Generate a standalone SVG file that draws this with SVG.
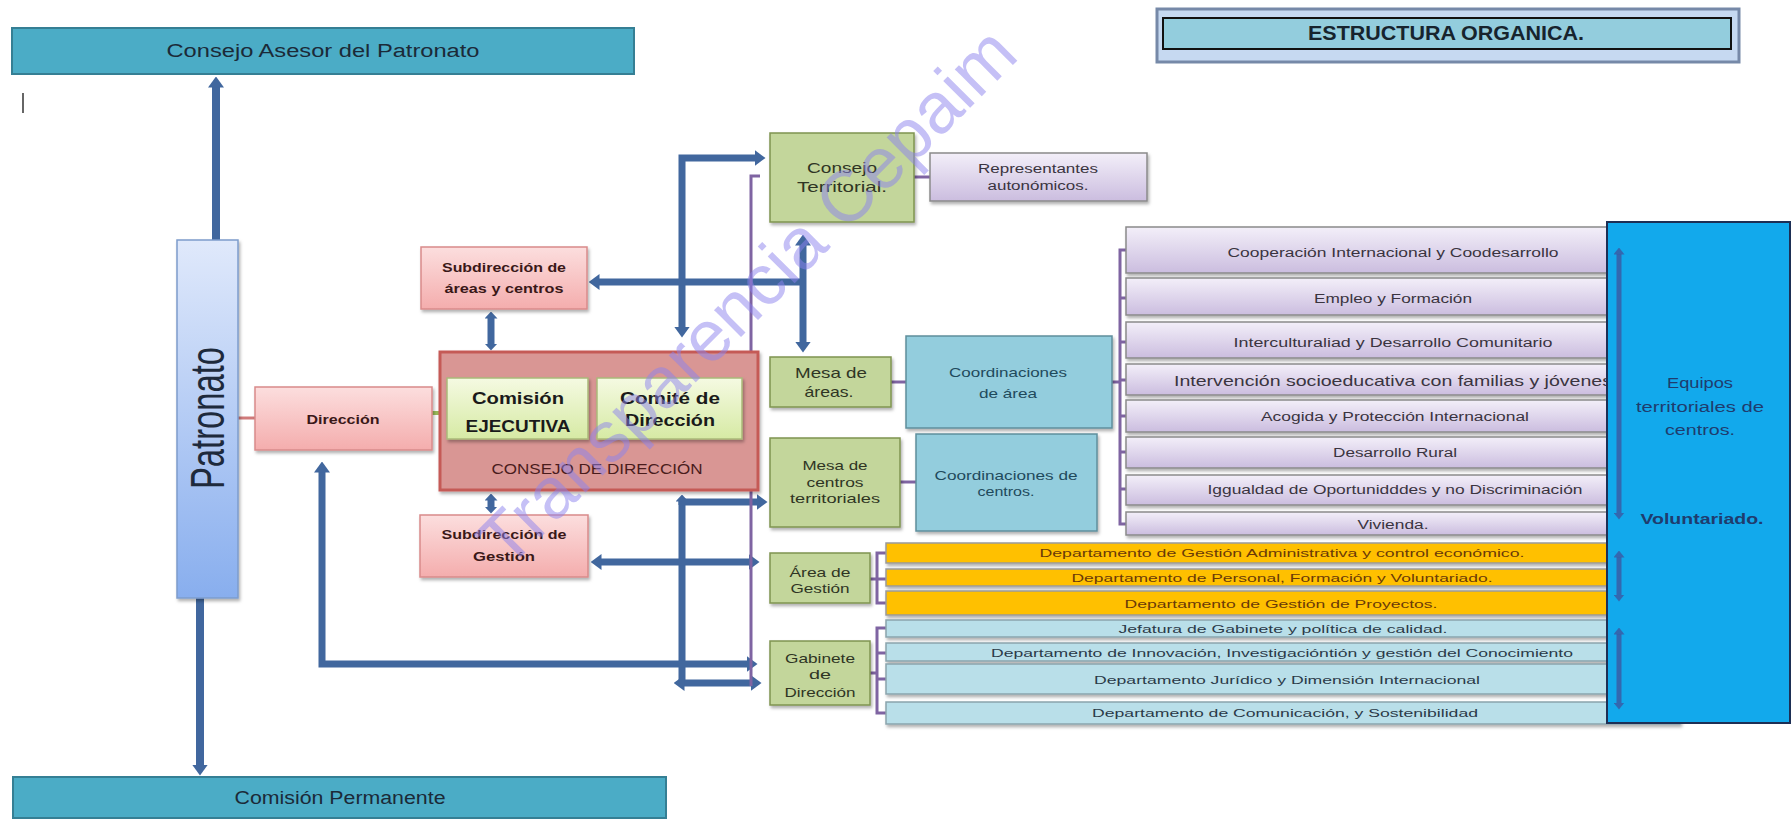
<svg xmlns="http://www.w3.org/2000/svg" width="1792" height="819" viewBox="0 0 1792 819">
<style>
text{font-family:"Liberation Sans",Arial,sans-serif;text-anchor:middle;}
.b{font-weight:bold;}
.conn{fill:none;stroke:#41679e;stroke-width:7;}
.main{fill:none;stroke:#41679e;stroke-width:8;}
.pl{fill:none;stroke:#7f64a2;stroke-width:3;}
.inner{fill:none;stroke:#3a5da6;stroke-width:5;stroke-opacity:0.85;}
.green{fill:#c3d69b;stroke:#7f9450;stroke-width:1.5;}
.gt{fill:#2f3524;}
.pink{fill:url(#gPink);stroke:#d98b8b;stroke-width:1.5;}
.pt{fill:#3a1818;}
.purp{fill:url(#gPurp);stroke:#8a8a8a;stroke-width:1.5;}
.prt{fill:#3a3440;font-size:12.5px;}
.orng{fill:#ffc000;stroke:#9a9a9a;stroke-width:1.5;}
.ot{fill:#6a3a08;font-size:11.5px;}
.lb{fill:#b9dfe9;stroke:#8aa4ac;stroke-width:1.5;}
.lt{fill:#2b3a48;font-size:11.5px;}
.cyan{fill:#93cddd;stroke:#5f8e9c;stroke-width:1.5;}
.ct{fill:#1f4a5c;font-size:13px;}
.teal{fill:#4bacc6;stroke:#357f94;stroke-width:2;}
</style>
<defs>
<linearGradient id="gPat" x1="0" y1="0" x2="0" y2="1"><stop offset="0" stop-color="#e0e9fb"/><stop offset="1" stop-color="#88aeee"/></linearGradient>
<linearGradient id="gPink" x1="0" y1="0" x2="0" y2="1"><stop offset="0" stop-color="#fcdede"/><stop offset="1" stop-color="#f4adad"/></linearGradient>
<linearGradient id="gLime" x1="0" y1="0" x2="0" y2="1"><stop offset="0" stop-color="#f5fae2"/><stop offset="1" stop-color="#d6eaa4"/></linearGradient>
<linearGradient id="gPurp" x1="0" y1="0" x2="0" y2="1"><stop offset="0" stop-color="#f3eff9"/><stop offset="1" stop-color="#cbbddf"/></linearGradient>
<filter id="sh" x="-10%" y="-10%" width="125%" height="140%"><feDropShadow dx="1.5" dy="2.5" stdDeviation="1.5" flood-color="#000" flood-opacity="0.3"/></filter>
<marker id="ah" viewBox="0 0 11 16" refX="0.5" refY="8" markerWidth="11" markerHeight="16" markerUnits="userSpaceOnUse" orient="auto-start-reverse"><path d="M0,0 L11,8 L0,16 z" fill="#41679e"/></marker>
<marker id="ahs" viewBox="0 0 7 13" refX="0.5" refY="6.5" markerWidth="7" markerHeight="13" markerUnits="userSpaceOnUse" orient="auto-start-reverse"><path d="M0,0 L7,6.5 L0,13 z" fill="#41679e"/></marker>
<marker id="ahi" viewBox="0 0 7 11" refX="0.5" refY="5.5" markerWidth="7" markerHeight="11" markerUnits="userSpaceOnUse" orient="auto-start-reverse"><path d="M0,0 L7,5.5 L0,11 z" fill="#3a5da6" fill-opacity="0.85"/></marker>
</defs>

<rect width="1792" height="819" fill="#ffffff"/>

<g id="titulo">
<rect x="1157" y="9" width="582" height="53" fill="#c6d9f1" stroke="#7689a8" stroke-width="3"/>
<rect x="1163" y="18" width="568" height="31" fill="#93cddd" stroke="#111" stroke-width="2"/>
<text x="1446" y="40" class="b" font-size="20" fill="#17242e" textLength="276" lengthAdjust="spacingAndGlyphs">ESTRUCTURA ORGANICA.</text>
</g>

<line x1="23" y1="93" x2="23" y2="113" stroke="#333" stroke-width="1.5"/>

<g id="consejo-asesor">
<rect class="teal" x="12" y="28" width="622" height="46"/>
<text x="323" y="57" font-size="18" fill="#1b2a38" textLength="313" lengthAdjust="spacingAndGlyphs">Consejo Asesor del Patronato</text>
</g>

<g id="comision-permanente">
<rect class="teal" x="13" y="777" width="653" height="41"/>
<text x="340" y="804" font-size="18" fill="#1b2a38" textLength="211" lengthAdjust="spacingAndGlyphs">Comisión Permanente</text>
</g>

<g id="connectors">
<line class="main" x1="216" y1="240" x2="216" y2="87" marker-end="url(#ah)"/>
<line class="main" x1="200" y1="598" x2="200" y2="765" marker-end="url(#ah)"/>
<line x1="238" y1="418" x2="255" y2="418" stroke="#d07a7a" stroke-width="3"/>
<line x1="432" y1="413" x2="440" y2="413" stroke="#9bbb59" stroke-width="4"/>
<line class="conn" x1="491" y1="318" x2="491" y2="344" marker-start="url(#ahs)" marker-end="url(#ahs)"/>
<line class="conn" x1="491" y1="500" x2="491" y2="507" marker-start="url(#ahs)" marker-end="url(#ahs)"/>
<path class="conn" d="M682,327 V158 H755" marker-start="url(#ah)" marker-end="url(#ah)"/>
<path class="conn" d="M803,282 H599" marker-end="url(#ah)"/>
<path class="conn" d="M803,245 V342" marker-start="url(#ah)" marker-end="url(#ah)"/>
<path class="conn" d="M682,501 V683"/>
<path class="conn" d="M682,505 V501" marker-end="url(#ahs)"/>
<path class="conn" d="M682,502 H757" marker-end="url(#ah)"/>
<path class="conn" d="M601,562 H749" marker-start="url(#ah)" marker-end="url(#ah)"/>
<path class="conn" d="M684,683 H751" marker-start="url(#ah)" marker-end="url(#ah)"/>
<path class="conn" d="M322,472 V664 H747" marker-start="url(#ah)" marker-end="url(#ah)"/>
<path class="pl" d="M760,176 H751 V686"/>
<line class="pl" x1="914" y1="177" x2="930" y2="177"/>
<line class="pl" x1="891" y1="382" x2="906" y2="382"/>
<line class="pl" x1="900" y1="482" x2="916" y2="482"/>
<path class="pl" d="M1112,382 H1120 M1127,250 H1120 V524 H1127 M1120,298 H1127 M1120,342 H1127 M1120,380 H1127 M1120,416 H1127 M1120,452 H1127 M1120,489 H1127"/>
<path class="pl" d="M870,579 H877 M886,553 H877 V603 H886 M877,579 H886"/>
<path class="pl" d="M870,673 H877 M886,628 H877 V713 H886 M877,653 H886 M877,679 H886"/>
</g>

<g id="patronato">
<rect x="177" y="240" width="61" height="358" fill="url(#gPat)" stroke="#7d9ccc" stroke-width="1.5" filter="url(#sh)"/>
<text transform="translate(207,418) rotate(-90) scale(1,1.28)" x="0" y="13.6" font-size="38" fill="#1e2a3c" textLength="142" lengthAdjust="spacingAndGlyphs">Patronato</text>
</g>

<g id="direccion">
<rect class="pink" x="255" y="387" width="177" height="63" filter="url(#sh)"/>
<text class="b pt" x="343" y="424" font-size="13" textLength="73" lengthAdjust="spacingAndGlyphs">Dirección</text>
</g>

<g id="subdireccion-areas">
<rect class="pink" x="421" y="247" width="166" height="62" filter="url(#sh)"/>
<text class="b pt" x="504" y="271.5" font-size="13" textLength="124" lengthAdjust="spacingAndGlyphs">Subdirección de</text>
<text class="b pt" x="504" y="292.5" font-size="13" textLength="119" lengthAdjust="spacingAndGlyphs">áreas y centros</text>
</g>

<g id="subdireccion-gestion">
<rect class="pink" x="420" y="515" width="168" height="62" filter="url(#sh)"/>
<text class="b pt" x="504" y="538.5" font-size="13" textLength="125" lengthAdjust="spacingAndGlyphs">Subdirección de</text>
<text class="b pt" x="504" y="560.5" font-size="13" textLength="62" lengthAdjust="spacingAndGlyphs">Gestión</text>
</g>

<g id="consejo-direccion">
<rect x="440" y="352" width="318" height="138" fill="#d99694" stroke="#c55a57" stroke-width="3" filter="url(#sh)"/>
<text x="597" y="473.5" font-size="15" fill="#4a1c1c" textLength="211" lengthAdjust="spacingAndGlyphs">CONSEJO DE DIRECCIÓN</text>
</g>

<g id="comision-ejecutiva">
<rect x="447" y="378" width="141" height="61" fill="url(#gLime)" stroke="#aab97a" stroke-width="1.5" filter="url(#sh)"/>
<text class="b" x="518" y="404" font-size="17" fill="#1a1a1a" textLength="92" lengthAdjust="spacingAndGlyphs">Comisión</text>
<text class="b" x="518" y="432" font-size="17" fill="#1a1a1a" textLength="105" lengthAdjust="spacingAndGlyphs">EJECUTIVA</text>
</g>

<g id="comite-direccion">
<rect x="597" y="378" width="145" height="61" fill="url(#gLime)" stroke="#aab97a" stroke-width="1.5" filter="url(#sh)"/>
<text class="b" x="670" y="404" font-size="17" fill="#1a1a1a" textLength="100" lengthAdjust="spacingAndGlyphs">Comité de</text>
<text class="b" x="670" y="426" font-size="17" fill="#1a1a1a" textLength="90" lengthAdjust="spacingAndGlyphs">Dirección</text>
</g>

<g id="consejo-territorial">
<rect class="green" x="770" y="133" width="144" height="89" filter="url(#sh)"/>
<text class="gt" x="842" y="173" font-size="14" textLength="70" lengthAdjust="spacingAndGlyphs">Consejo</text>
<text class="gt" x="842" y="192" font-size="14" textLength="90" lengthAdjust="spacingAndGlyphs">Territorial.</text>
</g>

<g id="representantes">
<rect class="purp" x="930" y="153" width="217" height="48" filter="url(#sh)"/>
<text class="prt" x="1038" y="173" font-size="12" textLength="120" lengthAdjust="spacingAndGlyphs">Representantes</text>
<text class="prt" x="1038" y="189.5" font-size="12" textLength="101" lengthAdjust="spacingAndGlyphs">autonómicos.</text>
</g>

<g id="mesa-areas">
<rect class="green" x="770" y="357" width="121" height="50" filter="url(#sh)"/>
<text class="gt" x="831" y="378" font-size="15" textLength="72" lengthAdjust="spacingAndGlyphs">Mesa de</text>
<text class="gt" x="829" y="397" font-size="15" textLength="49" lengthAdjust="spacingAndGlyphs">áreas.</text>
</g>

<g id="mesa-centros">
<rect class="green" x="770" y="438" width="130" height="89" filter="url(#sh)"/>
<text class="gt" x="835" y="469.5" font-size="13" textLength="65" lengthAdjust="spacingAndGlyphs">Mesa de</text>
<text class="gt" x="835" y="486.5" font-size="13" textLength="57" lengthAdjust="spacingAndGlyphs">centros</text>
<text class="gt" x="835" y="502.5" font-size="13" textLength="90" lengthAdjust="spacingAndGlyphs">territoriales</text>
</g>

<g id="coord-area">
<rect class="cyan" x="906" y="336" width="206" height="92" filter="url(#sh)"/>
<text class="ct" x="1008" y="376.5" textLength="118" lengthAdjust="spacingAndGlyphs">Coordinaciones</text>
<text class="ct" x="1008" y="397.5" textLength="58" lengthAdjust="spacingAndGlyphs">de área</text>
</g>

<g id="coord-centros">
<rect class="cyan" x="916" y="434" width="181" height="97" filter="url(#sh)"/>
<text class="ct" x="1006" y="479.5" textLength="143" lengthAdjust="spacingAndGlyphs">Coordinaciones de</text>
<text class="ct" x="1006" y="495.5" textLength="57" lengthAdjust="spacingAndGlyphs">centros.</text>
</g>

<g id="area-gestion">
<rect class="green" x="770" y="553" width="100" height="50" filter="url(#sh)"/>
<text class="gt" x="820" y="576.5" font-size="13" textLength="61" lengthAdjust="spacingAndGlyphs">Área de</text>
<text class="gt" x="820" y="592.5" font-size="13" textLength="59" lengthAdjust="spacingAndGlyphs">Gestión</text>
</g>

<g id="gabinete">
<rect class="green" x="770" y="641" width="100" height="64" filter="url(#sh)"/>
<text class="gt" x="820" y="662.5" font-size="13" textLength="70" lengthAdjust="spacingAndGlyphs">Gabinete</text>
<text class="gt" x="820" y="678.5" font-size="13" textLength="22" lengthAdjust="spacingAndGlyphs">de</text>
<text class="gt" x="820" y="696.5" font-size="13" textLength="71" lengthAdjust="spacingAndGlyphs">Dirección</text>
</g>

<g id="areas-lista">
<g id="area-cooperacion"><rect class="purp" x="1126" y="227" width="514" height="46" filter="url(#sh)"/><text class="prt" x="1393" y="256.5" textLength="331" lengthAdjust="spacingAndGlyphs">Cooperación Internacional y Coodesarrollo</text></g>
<g id="area-empleo"><rect class="purp" x="1126" y="278" width="514" height="37" filter="url(#sh)"/><text class="prt" x="1393" y="302.5" textLength="158" lengthAdjust="spacingAndGlyphs">Empleo y Formación</text></g>
<g id="area-intercultural"><rect class="purp" x="1126" y="322" width="514" height="36" filter="url(#sh)"/><text class="prt" x="1393" y="346.5" textLength="319" lengthAdjust="spacingAndGlyphs">Interculturaliad y Desarrollo Comunitario</text></g>
<g id="area-intervencion"><rect class="purp" x="1126" y="364" width="514" height="31" filter="url(#sh)"/><text class="prt" x="1393" y="385.5" style="font-size:15px" textLength="438" lengthAdjust="spacingAndGlyphs">Intervención socioeducativa con familias y jóvenes</text></g>
<g id="area-acogida"><rect class="purp" x="1126" y="400" width="514" height="32" filter="url(#sh)"/><text class="prt" x="1395" y="420.5" textLength="268" lengthAdjust="spacingAndGlyphs">Acogida y Protección Internacional</text></g>
<g id="area-rural"><rect class="purp" x="1126" y="437" width="514" height="31" filter="url(#sh)"/><text class="prt" x="1395" y="456.5" textLength="124" lengthAdjust="spacingAndGlyphs">Desarrollo Rural</text></g>
<g id="area-igualdad"><rect class="purp" x="1126" y="475" width="514" height="30" filter="url(#sh)"/><text class="prt" x="1395" y="493.5" textLength="375" lengthAdjust="spacingAndGlyphs">Iggualdad de Oportunidddes y no Discriminación</text></g>
<g id="area-vivienda"><rect class="purp" x="1126" y="512" width="514" height="23" filter="url(#sh)"/><text class="prt" x="1393" y="528.5" textLength="71" lengthAdjust="spacingAndGlyphs">Vivienda.</text></g>
</g>

<g id="departamentos-gestion">
<g id="dep-administrativa"><rect class="orng" x="886" y="543" width="754" height="20" filter="url(#sh)"/><text class="ot" x="1282" y="557" textLength="485" lengthAdjust="spacingAndGlyphs">Departamento de Gestión Administrativa y control económico.</text></g>
<g id="dep-personal"><rect class="orng" x="886" y="569" width="754" height="17" filter="url(#sh)"/><text class="ot" x="1282" y="582" textLength="421" lengthAdjust="spacingAndGlyphs">Departamento de Personal, Formación y Voluntariado.</text></g>
<g id="dep-proyectos"><rect class="orng" x="886" y="591" width="754" height="24" filter="url(#sh)"/><text class="ot" x="1281" y="608" textLength="313" lengthAdjust="spacingAndGlyphs">Departamento de  Gestión de Proyectos.</text></g>
</g>

<g id="departamentos-gabinete">
<g id="dep-jefatura"><rect class="lb" x="886" y="620" width="794" height="17" filter="url(#sh)"/><text class="lt" x="1283" y="633" textLength="329" lengthAdjust="spacingAndGlyphs">Jefatura de Gabinete y  política de calidad.</text></g>
<g id="dep-innovacion"><rect class="lb" x="886" y="643" width="794" height="18" filter="url(#sh)"/><text class="lt" x="1282" y="657" textLength="582" lengthAdjust="spacingAndGlyphs">Departamento de Innovación, Investigacióntión y gestión del Conocimiento</text></g>
<g id="dep-juridico"><rect class="lb" x="886" y="664" width="794" height="30" filter="url(#sh)"/><text class="lt" x="1287" y="684" textLength="386" lengthAdjust="spacingAndGlyphs">Departamento Jurídico y Dimensión Internacional</text></g>
<g id="dep-comunicacion"><rect class="lb" x="886" y="702" width="794" height="22" filter="url(#sh)"/><text class="lt" x="1285" y="717" textLength="386" lengthAdjust="spacingAndGlyphs">Departamento de  Comunicación, y Sostenibilidad</text></g>
</g>

<g id="equipos-territoriales">
<rect x="1607" y="222" width="183" height="501" fill="#12a9ec" stroke="#1d2f55" stroke-width="2"/>
<line class="inner" x1="1619" y1="254" x2="1619" y2="513" marker-start="url(#ahi)" marker-end="url(#ahi)"/>
<line class="inner" x1="1619" y1="557" x2="1619" y2="595" marker-start="url(#ahi)" marker-end="url(#ahi)"/>
<line class="inner" x1="1619" y1="634" x2="1619" y2="703" marker-start="url(#ahi)" marker-end="url(#ahi)"/>
<text x="1700" y="388" font-size="14" fill="#1f3c6e" textLength="66" lengthAdjust="spacingAndGlyphs">Equipos</text>
<text x="1700" y="412" font-size="14" fill="#1f3c6e" textLength="128" lengthAdjust="spacingAndGlyphs">territoriales de</text>
<text x="1700" y="435" font-size="14" fill="#1f3c6e" textLength="70" lengthAdjust="spacingAndGlyphs">centros.</text>
<text class="b" x="1702" y="524" font-size="14" fill="#1f3c6e" textLength="123" lengthAdjust="spacingAndGlyphs">Voluntariado.</text>
</g>

<text transform="translate(764,314) rotate(-45)" x="0" y="0" font-size="72" fill="#8c82ee" fill-opacity="0.5">Transparencia Cepaim</text>
</svg>
